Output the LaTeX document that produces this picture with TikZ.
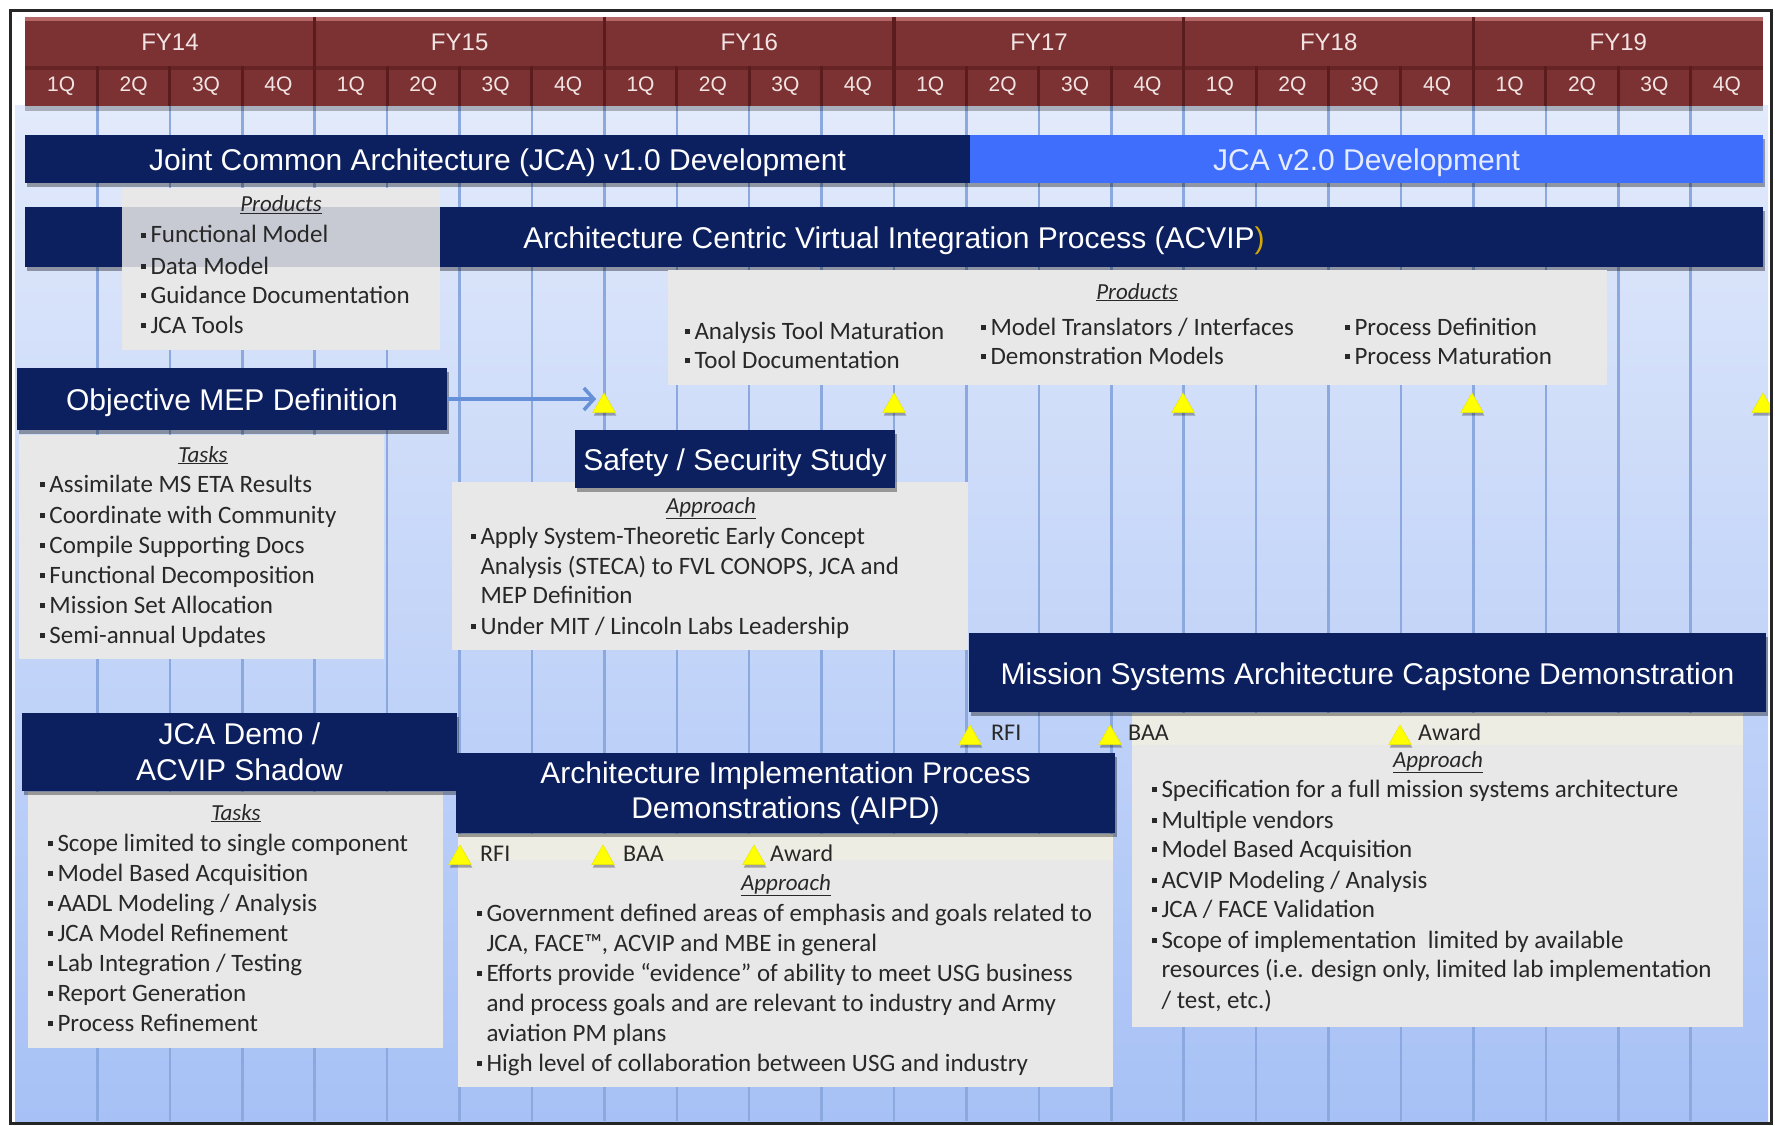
\documentclass[tikz,border=0pt]{standalone}
\usepackage{fontspec}
\setmainfont{Carlito}
\newfontfamily\arialf{Liberation Sans}
\usetikzlibrary{shapes.geometric,shadows,arrows.meta}
\definecolor{cNavy}{HTML}{0C1F5E}
\definecolor{cBright}{HTML}{3F6EFD}
\definecolor{cLightTxt}{HTML}{E6ECFF}
\definecolor{cHdr}{HTML}{7C3232}
\definecolor{cHdrTop}{HTML}{B56767}
\definecolor{cHdrSep}{HTML}{5A1C1C}
\definecolor{cHdrTxt}{HTML}{F2E4E4}
\definecolor{cBgTop}{HTML}{E2EAFB}
\definecolor{cBgBot}{HTML}{A7C1F6}
\definecolor{cGrid}{HTML}{8BA9DE}
\definecolor{cBox}{HTML}{E8E8E8}
\definecolor{cStrip}{HTML}{EEEDE3}
\definecolor{cTxt}{HTML}{282828}
\definecolor{cGold}{HTML}{D4A800}
\definecolor{cArrow}{HTML}{6690D8}
\definecolor{cFrame}{HTML}{262626}
\definecolor{cYel}{HTML}{FFFF00}
\definecolor{cYelEdge}{HTML}{E8E800}
\newcommand\bu{\raisebox{5pt}{\rule{4.8pt}{4.8pt}}\hspace{4.5pt}}
\newcommand\tline[4]{\node[btxt] (#1) at (#2,#3) {#4};}
\begin{document}
\begin{tikzpicture}[x=1pt,y=-1pt,
  bar/.style={fill=cNavy, inner sep=0pt, outer sep=0pt, text=white,
    font=\arialf\fontsize{30}{36}\selectfont, align=center, anchor=north west,
    drop shadow={shadow xshift=2pt,shadow yshift=-4pt,opacity=0.35,fill=black}},
  one/.style={text height=26pt, text depth=3pt},
  gbox/.style={fill=cBox, inner sep=0pt, outer sep=0pt, anchor=north west},
  sbox/.style={fill=cStrip, inner sep=0pt, outer sep=0pt, anchor=north west},
  btxt/.style={font=\fontsize{25}{30}\selectfont, text=cTxt, inner sep=0pt, anchor=base west},
  hdg/.style={font=\itshape\fontsize{23}{28}\selectfont, text=cTxt, inner sep=0pt, anchor=base},
  mlab/.style={font=\fontsize{24}{28}\selectfont, text=cTxt, inner sep=0pt, anchor=base west},
  ms/.style={regular polygon, regular polygon sides=3, minimum size=26pt, inner sep=0pt,
    fill=cYel, draw=cYelEdge, line width=0.5pt,
    drop shadow={shadow xshift=1pt,shadow yshift=-3pt,opacity=0.3,fill=black}},
  hfy/.style={text=cHdrTxt, font=\arialf\fontsize{24}{28}\selectfont, inner sep=0pt},
  hq/.style={text=cHdrTxt, font=\arialf\fontsize{21}{24}\selectfont, inner sep=0pt},
  gridln/.style={cGrid, line width=2.5pt},
]
\useasboundingbox (0,0) rectangle (1775,1126);
\fill[white] (0,0) rectangle (1775,1126);
\begin{scope}
\clip (12,12) rectangle (1770,1122);
% body background
\shade[top color=cBgTop, bottom color=cBgBot] (15,106) rectangle (1768,1121);
\foreach \k in {1,...,23} \draw[gridln] ({25+72.42*\k},106) -- ({25+72.42*\k},1121);
% header
\node[fill=cHdr, minimum width=1738pt, minimum height=40pt, inner sep=0pt, anchor=north west,
  drop shadow={shadow xshift=0pt,shadow yshift=-5pt,opacity=0.25,fill=black}] (qrow) at (25,66) {};
\node[fill=cHdr, minimum width=1738pt, minimum height=49pt, inner sep=0pt, anchor=north west] (fyrow) at (25,17) {};
\fill[cHdrTop] (fyrow.north west) rectangle ([yshift=-4pt]fyrow.north east);
\fill[cHdrSep, opacity=0.6] (qrow.north west) rectangle ([yshift=-4pt]qrow.north east);
\foreach \k in {1,...,23} \draw[cHdrSep, line width=3pt] ({25+72.42*\k},66) -- ({25+72.42*\k},106);
\foreach \k in {1,...,5} \draw[cHdrSep, line width=3.5pt] ({25+289.67*\k},17) -- ({25+289.67*\k},106);
\foreach \y [count=\i from 0] in {14,...,19} \node[hfy] (fy\y) at ({170+289.67*\i},42) {FY\y};
\foreach \k in {0,...,23} {
  \pgfmathtruncatemacro\q{mod(\k,4)+1}
  \node[hq] (q\k) at ({25+72.42*(\k+0.5)},86) {\q Q};
}
% top bars
\node[bar, one, minimum width=945pt, minimum height=48pt] (jca1) at (25,135) {Joint Common Architecture (JCA) v1.0 Development};
\node[bar, one, fill=cBright, text=cLightTxt, minimum width=793pt, minimum height=48pt] (jca2) at (970,135) {JCA v2.0 Development};
\node[bar, one, minimum width=1738pt, minimum height=60pt] (acvip) at (25,207) {Architecture Centric Virtual Integration Process (ACVIP\textcolor{cGold}{)}};
% JCA products
\node[gbox, minimum width=318pt, minimum height=162pt] (jprod) at (122,188) {};
\begin{scope}
\clip (jprod.north west) rectangle (jprod.south east);
\fill[cNavy, opacity=0.15] (acvip.north west) rectangle (acvip.south east);
\end{scope}
\node[hdg] (jph) at (281,212) {\underline{Products}};
\tline{jp1}{141}{243}{\bu Functional Model}
\tline{jp2}{141}{274}{\bu Data Model}
\tline{jp3}{141}{303}{\bu Guidance Documentation}
\tline{jp4}{141}{333}{\bu JCA Tools}
% ACVIP products
\node[gbox, minimum width=939pt, minimum height=115pt] (aprod) at (668,270) {};
\node[hdg] (aph) at (1137,299) {\underline{Products}};
\tline{ap1}{685}{339}{\bu Analysis Tool Maturation}
\tline{ap2}{685}{368}{\bu Tool Documentation}
\tline{ap3}{981}{335}{\bu Model Translators / Interfaces}
\tline{ap4}{981}{364}{\bu Demonstration Models}
\tline{ap5}{1345}{335}{\bu Process Definition}
\tline{ap6}{1345}{364}{\bu Process Maturation}
% milestones
\node[ms] (ms1) at (604,406) {};
\node[ms] (ms2) at (894,406) {};
\node[ms] (ms3) at (1183,406) {};
\node[ms] (ms4) at (1472,406) {};
\node[ms] (ms5) at (1763,406) {};
% Objective MEP
\node[gbox, minimum width=365pt, minimum height=224pt] (mept) at (19,435) {};
\node[bar, one, minimum width=430pt, minimum height=62pt] (mep) at (17,368) {Objective MEP Definition};
\draw[cArrow, line width=3.5pt, -{Straight Barb[length=10pt,width=22pt]}] (mep.east) -- (mep.east -| ms1.west);
\node[hdg] (meph) at (203,462) {\underline{Tasks}};
\tline{mt1}{40}{492}{\bu Assimilate MS ETA Results}
\tline{mt2}{40}{523}{\bu Coordinate with Community}
\tline{mt3}{40}{553}{\bu Compile Supporting Docs}
\tline{mt4}{40}{583}{\bu Functional Decomposition}
\tline{mt5}{40}{613}{\bu Mission Set Allocation}
\tline{mt6}{40}{643}{\bu Semi-annual Updates}
% Safety
\node[gbox, minimum width=516pt, minimum height=168pt] (safa) at (452,482) {};
\node[bar, one, minimum width=320pt, minimum height=58pt] (saf) at (575,430) {Safety / Security Study};
\node[hdg] (safh) at (711,513) {\underline{Approach}};
\tline{sa1}{471}{544}{\bu Apply System-Theoretic Early Concept}
\tline{sa2}{471}{574}{\phantom{\bu}Analysis (STECA) to FVL CONOPS, JCA and}
\tline{sa3}{471}{603}{\phantom{\bu}MEP Definition}
\tline{sa4}{471}{634}{\bu Under MIT / Lincoln Labs Leadership}
% MSAC
\node[gbox, minimum width=611pt, minimum height=314pt] (msa) at (1132,713) {};
\node[sbox, minimum width=611pt, minimum height=32pt] (mss) at (1132,713) {};
\node[bar, one, minimum width=797pt, minimum height=79pt] (msac) at (969,633) {Mission Systems Architecture Capstone Demonstration};
\node[ms] (mr1) at (970,738) {};
\node[ms] (mr2) at (1110,738) {};
\node[ms] (mr3) at (1400,738) {};
\node[mlab] (mrl1) at (991,740) {RFI};
\node[mlab] (mrl2) at (1128,740) {BAA};
\node[mlab] (mrl3) at (1418,740) {Award};
\node[hdg] (msah) at (1438,767) {\underline{Approach}};
\tline{mc1}{1152}{797}{\bu Specification for a full mission systems architecture}
\tline{mc2}{1152}{828}{\bu Multiple vendors}
\tline{mc3}{1152}{857}{\bu Model Based Acquisition}
\tline{mc4}{1152}{888}{\bu ACVIP Modeling / Analysis}
\tline{mc5}{1152}{917}{\bu JCA / FACE Validation}
\tline{mc6}{1152}{948}{\bu Scope of implementation\ \ limited by available}
\tline{mc7}{1152}{977}{\phantom{\bu}resources (i.e. design only, limited lab implementation}
\tline{mc8}{1152}{1008}{\phantom{\bu}/ test, etc.)}
% JCA Demo
\node[gbox, minimum width=415pt, minimum height=256pt] (jdt) at (28,792) {};
\node[bar, minimum width=435pt, minimum height=78pt] (jdemo) at (22,713) {JCA Demo /\\ACVIP Shadow};
\node[hdg] (jdh) at (236,820) {\underline{Tasks}};
\tline{jd1}{48}{851}{\bu Scope limited to single component}
\tline{jd2}{48}{881}{\bu Model Based Acquisition}
\tline{jd3}{48}{911}{\bu AADL Modeling / Analysis}
\tline{jd4}{48}{941}{\bu JCA Model Refinement}
\tline{jd5}{48}{971}{\bu Lab Integration / Testing}
\tline{jd6}{48}{1001}{\bu Report Generation}
\tline{jd7}{48}{1031}{\bu Process Refinement}
% AIPD
\node[gbox, minimum width=655pt, minimum height=253pt] (aipa) at (458,834) {};
\node[sbox, minimum width=655pt, minimum height=26pt] (aips) at (458,834) {};
\node[bar, minimum width=659pt, minimum height=80pt, font=\arialf\fontsize{30}{35}\selectfont] (aipd) at (456,753) {Architecture Implementation Process\\Demonstrations (AIPD)};
\node[ms] (ar1) at (460,858) {};
\node[ms] (ar2) at (603,858) {};
\node[ms] (ar3) at (754,858) {};
\node[mlab] (arl1) at (480,861) {RFI};
\node[mlab] (arl2) at (623,861) {BAA};
\node[mlab] (arl3) at (770,861) {Award};
\node[hdg] (aiph) at (786,890) {\underline{Approach}};
\tline{ai1}{477}{921}{\bu Government defined areas of emphasis and goals related to}
\tline{ai2}{477}{951}{\phantom{\bu}JCA, FACE™, ACVIP and MBE in general}
\tline{ai3}{477}{981}{\bu Efforts provide “evidence” of ability to meet USG business}
\tline{ai4}{477}{1011}{\phantom{\bu}and process goals and are relevant to industry and Army}
\tline{ai5}{477}{1041}{\phantom{\bu}aviation PM plans}
\tline{ai6}{477}{1071}{\bu High level of collaboration between USG and industry}
\end{scope}
\draw[cFrame, line width=3pt] (10.5,10.5) rectangle (1771,1123);
\end{tikzpicture}
\end{document}
